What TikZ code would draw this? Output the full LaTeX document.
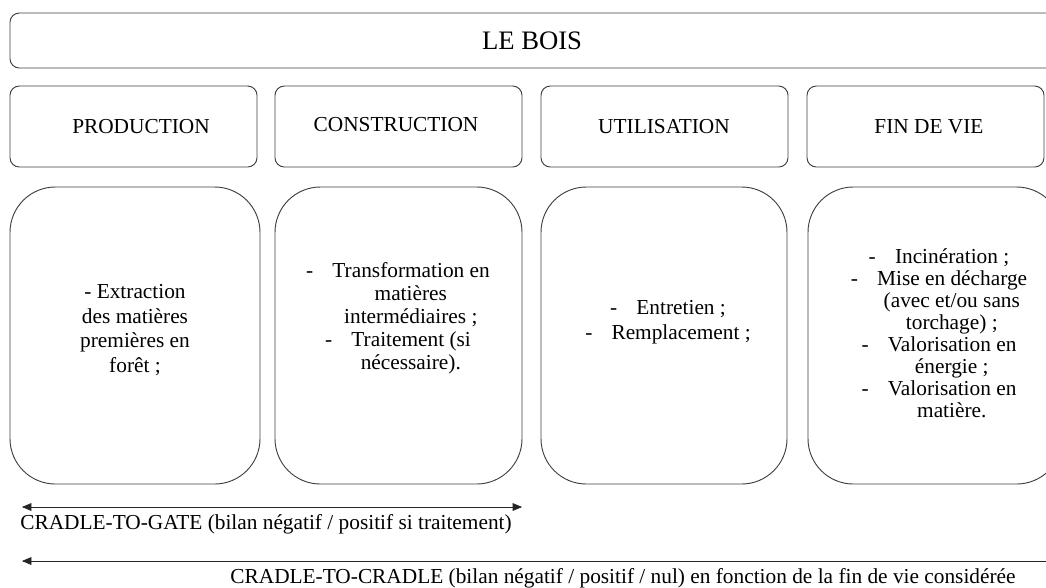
\documentclass[tikz,border=0pt]{standalone}
\usepackage{fontspec}
\setmainfont{Liberation Serif}
\usetikzlibrary{arrows}

\newcommand{\puce}{-\hspace{0.9em}}
\newcommand{\suite}{\hspace*{1.2em}}

\begin{document}
\begin{tikzpicture}[x=0.75pt,y=-0.75pt,
        petitcadre/.style={draw=black!75, line width=0.7pt, rounded corners=7pt},
        grandcadre/.style={draw=black!75, line width=0.7pt, rounded corners=34pt},
        txt/.style={align=center, inner sep=0pt, font=\fontsize{16}{18.5}\selectfont},
        fleche/.style={black!85, line width=0.6pt}]
                \useasboundingbox (0,0) rectangle (1046,587);

                \draw[petitcadre] (10,13) rectangle (1056,68);
                \node[txt, font=\fontsize{20}{24}\selectfont] (bois) at (532,41) {LE BOIS};

                \draw[petitcadre] (10,86) rectangle (257,167);
                \node[txt] (production) at (141,127) {PRODUCTION};
                \draw[petitcadre] (275,86) rectangle (522,167);
                \node[txt] (construction) at (396,125) {CONSTRUCTION};
                \draw[petitcadre] (541,86) rectangle (788,167);
                \node[txt] (utilisation) at (664,127) {UTILISATION};
                \draw[petitcadre] (807,86) rectangle (1044,167);
                \node[txt] (findevie) at (929,127) {FIN DE VIE};

                \draw[grandcadre] (10,187) rectangle (260,484);
                \node[txt, font=\fontsize{16}{18.5}\selectfont] (extraction) at (135,330)
                    {- Extraction\\des matières\\premières en\\forêt ;};
                \draw[grandcadre] (275,187) rectangle (522,484);
                \node[txt, font=\fontsize{16}{17.3}\selectfont] (transformation) at (398,318)
                    {\puce Transformation en\\\suite matières\\\suite intermédiaires ;\\\puce Traitement (si\\\suite nécessaire).};
                \draw[grandcadre] (541,187) rectangle (787,484);
                \node[txt, font=\fontsize{16}{18.5}\selectfont] (entretien) at (668,322)
                    {\puce Entretien ;\\\puce Remplacement ;};
                \draw[grandcadre] (808,187) rectangle (1062,484);
                \node[txt, font=\fontsize{16}{16.5}\selectfont] (incineration) at (939,333)
                    {\puce Incinération ;\\\puce Mise en décharge\\\suite (avec et/ou sans\\\suite torchage) ;\\\puce Valorisation en\\\suite énergie ;\\\puce Valorisation en\\\suite matière.};

                \coordinate (gateA) at (22,507);
                \coordinate (gateB) at (522,507);
                \draw[fleche, arrows={triangle 45-triangle 45}] (gateA) -- (gateB);
                \node[txt] (gate) at (266,524) {CRADLE-TO-GATE (bilan négatif / positif si traitement)};

                \coordinate (cradleA) at (22,561);
                \coordinate (cradleB) at (1046,561);
                \draw[fleche, arrows={triangle 45-}] (cradleA) -- (cradleB);
                \node[txt] (cradle) at (623,578) {CRADLE-TO-CRADLE (bilan négatif / positif / nul) en fonction de la fin de vie considérée};
\end{tikzpicture}
\end{document}
